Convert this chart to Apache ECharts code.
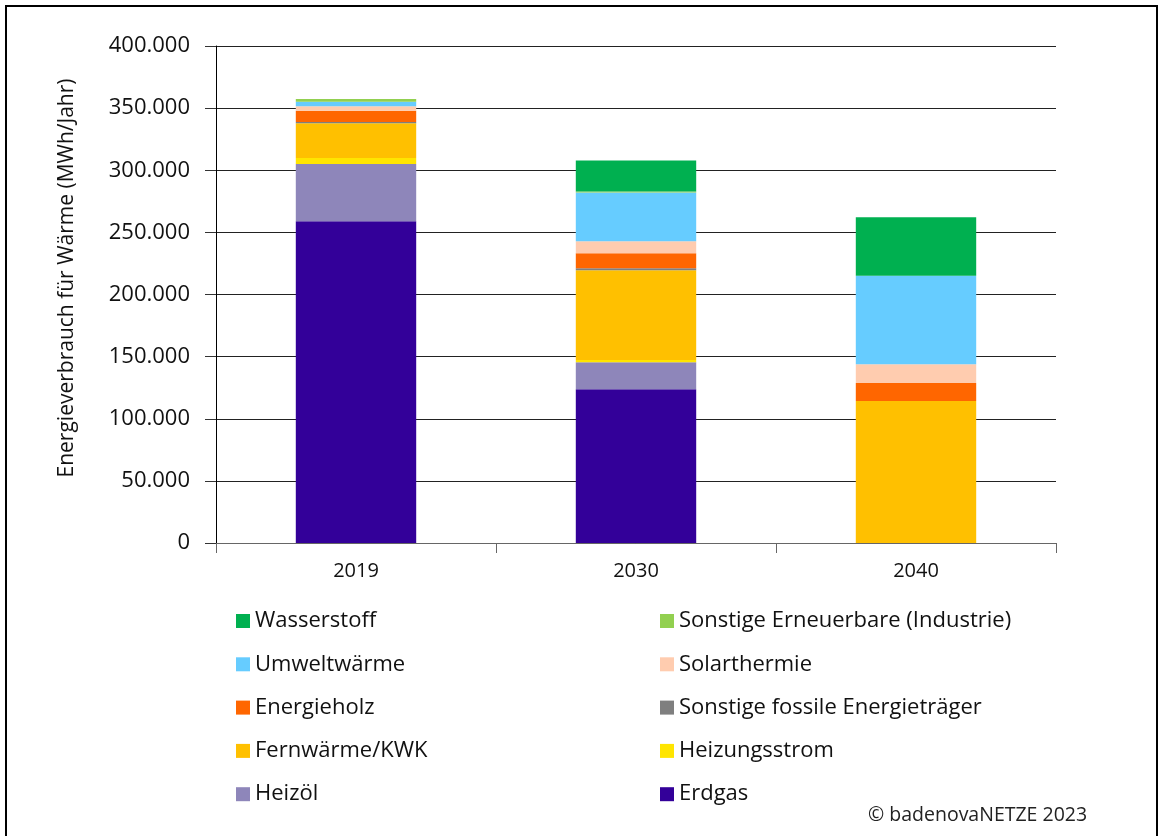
<!DOCTYPE html>
<html><head><meta charset="utf-8">
<script src="https://cdn.jsdelivr.net/npm/echarts@6/dist/echarts.min.js"></script>
<style>html,body{margin:0;padding:0;background:#fff}#c{width:1166px;height:836px}</style>
</head><body><div id="c"></div>
<script>
const categories = ['2019', '2030', '2040'];
const erdgas = [259000, 123700, 0];
const heizoel = [46000, 21700, 0];
const heizungsstrom = [4800, 1800, 0];
const fernwaerme = [28000, 72400, 114300];
const sonstFossil = [1000, 1600, 0];
const energieholz = [9000, 12000, 14500];
const solarthermie = [3800, 9700, 15000];
const umweltwaerme = [3500, 39200, 71300];
const sonstErneuerbar = [2200, 800, 0];
const wasserstoff = [0, 25000, 47000];
const yTicks = [0, 50000, 100000, 150000, 200000, 250000, 300000, 350000, 400000];
const yAxisTitle = 'Energieverbrauch für Wärme (MWh/Jahr)';
const copyright = '© badenovaNETZE 2023';

const seriesDefs = [
  ['Erdgas', erdgas, '#330099'],
  ['Heizöl', heizoel, '#8E86BA'],
  ['Heizungsstrom', heizungsstrom, '#FFE500'],
  ['Fernwärme/KWK', fernwaerme, '#FFC000'],
  ['Sonstige fossile Energieträger', sonstFossil, '#7F7F7F'],
  ['Energieholz', energieholz, '#FF6600'],
  ['Solarthermie', solarthermie, '#FFCCAF'],
  ['Umweltwärme', umweltwaerme, '#66CCFF'],
  ['Sonstige Erneuerbare (Industrie)', sonstErneuerbar, '#92D050'],
  ['Wasserstoff', wasserstoff, '#00B050']
];
const fmt = v => String(v).replace(/\B(?=(\d{3})+(?!\d))/g, '.');
const FONT = '"Open Sans", "Noto Sans", sans-serif';
const chart = echarts.init(document.getElementById('c'), null, {renderer: 'canvas'});
const legendText = {fontFamily: FONT, fontSize: 22, lineHeight: 22, color: '#111'};
const legendCommon = {top: 610, orient: 'vertical', itemGap: 21.3, itemWidth: 14, itemHeight: 14,
  icon: 'rect', textStyle: legendText, padding: 0};
chart.setOption({
  animation: false,
  backgroundColor: '#fff',
  grid: {left: 216, right: 110, top: 46, bottom: 293},
  xAxis: {
    type: 'category', data: categories,
    axisLine: {lineStyle: {color: '#666', width: 1}},
    axisTick: {show: true, length: 10, lineStyle: {color: '#666'}},
    axisLabel: {fontFamily: FONT, fontSize: 20, color: '#111', margin: 18}
  },
  yAxis: {
    type: 'value', min: 0, max: 400000, interval: 50000,
    axisLine: {show: true, lineStyle: {color: '#000'}},
    axisTick: {show: true, length: 11, lineStyle: {color: '#333'}},
    splitLine: {lineStyle: {color: '#222', width: 1}},
    axisLabel: {fontFamily: FONT, fontSize: 22, color: '#111', margin: 26,
      formatter: v => yTicks.includes(v) ? fmt(v) : ''}
  },
  legend: [
    Object.assign({left: 236, data: ['Wasserstoff', 'Umweltwärme', 'Energieholz', 'Fernwärme/KWK', 'Heizöl']}, legendCommon),
    Object.assign({left: 660, data: ['Sonstige Erneuerbare (Industrie)', 'Solarthermie', 'Sonstige fossile Energieträger', 'Heizungsstrom', 'Erdgas']}, legendCommon)
  ],
  graphic: [
    {type: 'rect', shape: {x: 6, y: 6, width: 1151, height: 840}, style: {fill: 'none', stroke: '#000', lineWidth: 2}, silent: true},
    {type: 'text', x: 67, y: 278, rotation: Math.PI / 2,
     style: {text: yAxisTitle, font: '21px ' + FONT, fill: '#111', align: 'center', verticalAlign: 'middle'}},
    {type: 'text', x: 868, y: 815, style: {text: copyright, font: '19.5px ' + FONT, fill: '#222', verticalAlign: 'middle'}}
  ],
  series: seriesDefs.map(([name, data, color]) => ({
    name, type: 'bar', stack: 'total', data, barWidth: '43%',
    itemStyle: {color}
  }))
});
</script></body></html>
